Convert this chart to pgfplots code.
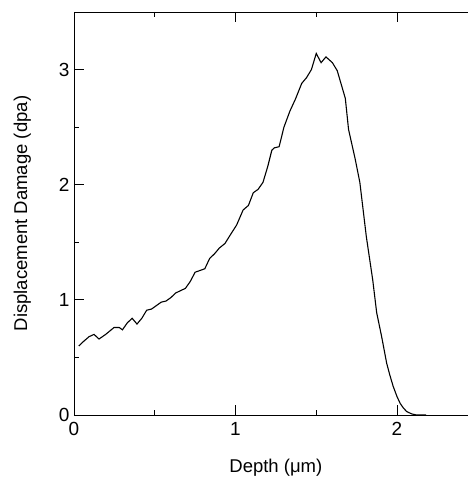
\documentclass[border=0pt]{standalone}
\usepackage{fontspec}
\setmainfont{Liberation Sans}
\usepackage{pgfplots}
\pgfplotsset{compat=1.18}

\begin{document}
\begin{tikzpicture}
\begin{axis}[
scale only axis,width=403.75pt,height=403pt,
xmin=0,xmax=2.5,ymin=0,ymax=3.5,
xtick={0,1,2},ytick={0,1,2,3},
minor tick num=1,
tick align=inside,
major tick length=10pt,minor tick length=5pt,
every tick/.style={black,line width=0.9pt},
axis line style={line width=0.9pt},
/pgf/number format/assume math mode=true,
tick label style={font=\fontsize{19}{22}\selectfont},
xticklabel style={yshift=-4pt},
yticklabel style={xshift=-1pt},
label style={font=\fontsize{18.5}{22}\selectfont},
xlabel={Depth (μm)},ylabel={Displacement Damage (dpa)},
xlabel style={at={(axis description cs:0.5,-0.13)},anchor=center},
ylabel style={at={(axis description cs:-0.128,0.5)},anchor=center,rotate=0},
]
\addplot[black,line width=1.1pt] coordinates {
(0.03,0.60)(0.06,0.64)(0.093,0.68)(0.124,0.70)(0.155,0.66)(0.196,0.70)
(0.248,0.76)(0.28,0.76)(0.30,0.74)(0.33,0.80)(0.36,0.84)(0.39,0.79)
(0.42,0.84)(0.45,0.91)(0.48,0.92)(0.51,0.95)(0.54,0.98)(0.57,0.99)
(0.60,1.02)(0.63,1.06)(0.69,1.10)(0.72,1.16)(0.75,1.24)(0.79,1.26)
(0.81,1.27)(0.84,1.36)(0.87,1.40)(0.90,1.45)(0.935,1.49)(0.966,1.56)
(1.007,1.65)(1.047,1.78)(1.08,1.82)(1.11,1.93)(1.14,1.96)(1.17,2.02)
(1.20,2.16)(1.225,2.30)(1.24,2.32)(1.27,2.33)(1.30,2.50)(1.337,2.64)
(1.37,2.74)(1.41,2.88)(1.44,2.93)(1.47,3.00)(1.50,3.14)(1.53,3.06)
(1.56,3.11)(1.60,3.06)(1.63,2.99)(1.68,2.75)(1.70,2.48)(1.74,2.23)
(1.77,2.02)(1.81,1.55)(1.85,1.17)(1.874,0.89)(1.905,0.68)(1.936,0.45)
(1.955,0.35)(1.976,0.25)(2.00,0.16)(2.02,0.10)(2.04,0.06)(2.06,0.03)
(2.09,0.01)(2.12,0.0)(2.18,0.0)
};
\end{axis}
\pgfresetboundingbox
\useasboundingbox (-74pt,-62pt) rectangle (394pt,415pt);
\end{tikzpicture}
\end{document}
